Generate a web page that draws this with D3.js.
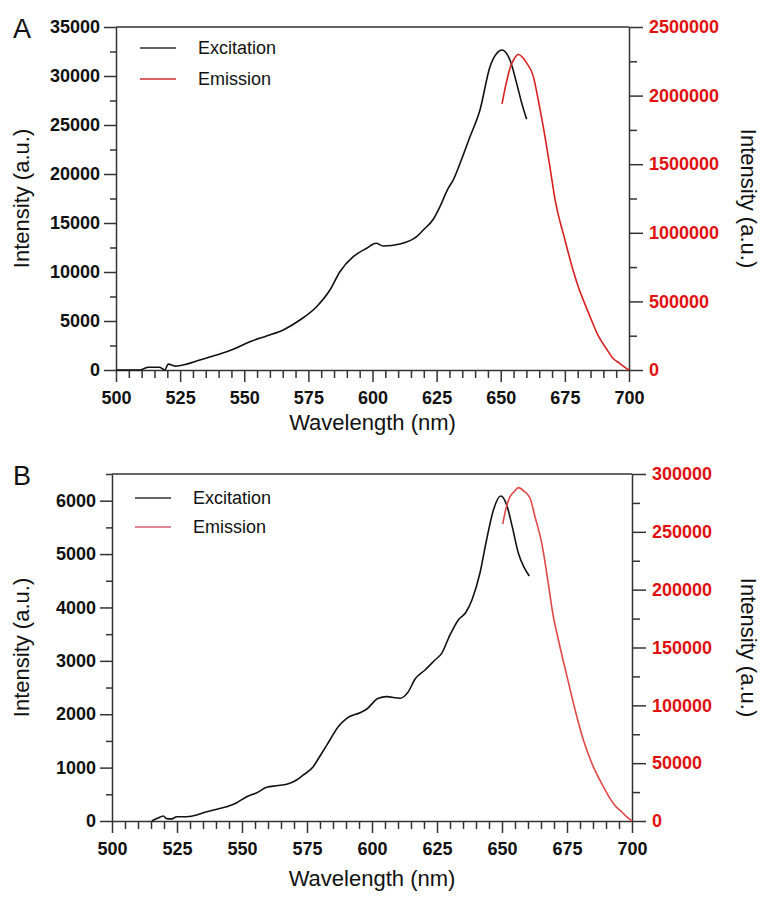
<!DOCTYPE html>
<html>
<head>
<meta charset="utf-8">
<script src="https://cdn.jsdelivr.net/npm/d3@7"></script>
<style>
  body { margin: 0; background: #fff; }
  svg { font-family: "Liberation Sans", Arial, sans-serif; }
</style>
</head>
<body>
<script>
// Panel A data (wavelength nm, intensity a.u.)
const excitationA = [
  [500, 0], [505, 0], [509.4, 0], [511, 150], [512.5, 280], [517, 280], [518, 150], [519, 0],
  [520.4, 600], [523, 400], [527.5, 600], [532.7, 1020], [539.2, 1530], [545.7, 2110],
  [552.2, 2890], [558.7, 3470], [565.2, 4080], [571.7, 5100], [578.2, 6460], [583.4, 8160],
  [587.3, 10030], [592.5, 11560], [597.7, 12420], [601.4, 12930], [604.2, 12650], [610.7, 12860],
  [617.2, 13600], [619.8, 14290], [623.7, 15380], [626.3, 16670], [629.5, 18540], [631.5, 19390],
  [634, 21000], [638, 23800], [641.9, 26530], [645.8, 30950], [648.4, 32300], [650.4, 32650],
  [653.6, 31630], [656.2, 29250], [658.2, 27210], [660.1, 25580]
];
const emissionA = [
  [650.5, 1940000], [652, 2080000], [653.6, 2200000], [655, 2260000], [656.8, 2300000],
  [658.5, 2280000], [660, 2240000], [662.7, 2140000], [664.5, 1980000], [666.6, 1770000],
  [669, 1500000], [671.2, 1240000], [675, 950000], [678, 740000], [680, 620000],
  [682.4, 500000], [685, 380000], [688, 250000], [691, 160000], [694, 80000],
  [696.3, 50000], [698, 25000], [700, 0]
];

// Panel B data
const excitationB = [
  [515.3, 0], [517.5, 50], [519.7, 94], [521, 44], [523, 40], [524.9, 81], [528.7, 81],
  [532.6, 112], [535.1, 156], [540.3, 219], [544.1, 268], [548, 343], [551.8, 455],
  [555.7, 531], [559.5, 631], [563.3, 661], [567.2, 687], [571, 768], [573.6, 862],
  [577.4, 1018], [580, 1218], [583.8, 1517], [587, 1767], [590.3, 1924], [595.4, 2029],
  [597.9, 2093], [602.4, 2299], [605.6, 2329], [610.8, 2299], [614, 2424], [616.5, 2655],
  [620.4, 2829], [624.2, 3016], [626.8, 3141], [630, 3485], [633.2, 3766], [636, 3900],
  [638.5, 4150], [641.5, 4640], [644, 5250], [646.7, 5826], [649.5, 6088], [651.8, 5920],
  [654, 5500], [656.3, 5015], [658.5, 4750], [660.5, 4590]
];
const emissionB = [
  [650.3, 256800], [651.5, 270000], [653.1, 280400], [654.8, 285000], [656.3, 288200],
  [658.5, 285000], [660.8, 279000], [662.7, 263000], [665.3, 240000], [667.8, 205500],
  [669.5, 180000], [671.7, 156500], [675, 125000], [678, 97000], [681.3, 70000],
  [685.1, 47000], [689, 29700], [691.5, 19600], [694, 12000], [696, 8000], [698, 3500], [700, 0]
];

const xTicks = [500, 525, 550, 575, 600, 625, 650, 675, 700];
const leftTicksA = [0, 5000, 10000, 15000, 20000, 25000, 30000, 35000];
const rightTicksA = [0, 500000, 1000000, 1500000, 2000000, 2500000];
const leftTicksB = [0, 1000, 2000, 3000, 4000, 5000, 6000];
const rightTicksB = [0, 50000, 100000, 150000, 200000, 250000, 300000];

const svg = d3.select("body").append("svg")
  .attr("width", 763)
  .attr("height", 897);

function drawPanel(p) {
  const x = d3.scaleLinear().domain([500, 700]).range([p.left, p.right]);
  const yL = d3.scaleLinear().domain([0, p.leftMax]).range([p.bottom, p.top]);
  const yR = d3.scaleLinear().domain([0, p.rightMax]).range([p.bottom, p.top]);
  const g = svg.append("g");
  const axisColor = "#333";

  // top border
  g.append("line")
    .attr("x1", p.left).attr("x2", p.right)
    .attr("y1", p.top).attr("y2", p.top)
    .attr("stroke", axisColor).attr("stroke-width", 1.5);

  // x axis: minor ticks then major
  const xMinor = d3.range(500, 701, 5).filter(d => d % 25 !== 0);
  g.append("g").attr("transform", `translate(0,${p.bottom})`)
    .call(d3.axisBottom(x).tickValues(xMinor).tickSize(8).tickFormat(""))
    .call(a => a.select(".domain").remove());
  g.append("g").attr("transform", `translate(0,${p.bottom})`)
    .call(d3.axisBottom(x).tickValues(xTicks).tickSize(12).tickSizeOuter(0).tickPadding(9));

  // left axis
  const lMinor = d3.range(p.leftMinor, p.leftMax + 1, p.leftMinor * 2);
  g.append("g").attr("transform", `translate(${p.left},0)`)
    .call(d3.axisLeft(yL).tickValues(lMinor).tickSize(6).tickFormat(""))
    .call(a => a.select(".domain").remove());
  g.append("g").attr("transform", `translate(${p.left},0)`)
    .call(d3.axisLeft(yL).tickValues(p.leftTicks).tickSize(12).tickSizeOuter(0).tickPadding(4).tickFormat(d3.format("d")));

  // right axis
  const rMinor = d3.range(p.rightMinor, p.rightMax, p.rightMinor * 2);
  g.append("g").attr("transform", `translate(${p.right},0)`)
    .call(d3.axisRight(yR).tickValues(rMinor).tickSize(8).tickFormat(""))
    .call(a => a.select(".domain").remove());
  const ra = g.append("g").attr("transform", `translate(${p.right},0)`)
    .call(d3.axisRight(yR).tickValues(p.rightTicks).tickSize(14).tickSizeOuter(0).tickPadding(6).tickFormat(d3.format("d")));

  g.selectAll(".tick line").attr("stroke", axisColor).attr("stroke-width", 1.5);
  g.selectAll(".domain").attr("stroke", axisColor).attr("stroke-width", 1.5);
  g.selectAll(".tick text")
    .style("font-family", "'Liberation Sans', Arial, sans-serif")
    .style("font-size", "18px").style("font-weight", "bold").attr("fill", "#111");
  ra.selectAll(".tick text").attr("fill", "#e01010");

  // curves
  const line = (ys) => d3.line().x(d => x(d[0])).y(d => ys(d[1])).curve(d3.curveMonotoneX);
  g.append("path").datum(p.exc)
    .attr("d", line(yL)).attr("fill", "none")
    .attr("stroke", "#111").attr("stroke-width", 1.6);
  g.append("path").datum(p.emi)
    .attr("d", line(yR)).attr("fill", "none")
    .attr("stroke", p.red).attr("stroke-width", 1.6);

  // legend
  const lg = g.append("g");
  [["Excitation", "#333", p.legY], ["Emission", p.redLeg, p.legY + p.legGap]].forEach(([t, c, y]) => {
    lg.append("line").attr("x1", p.legX).attr("x2", p.legX + 36)
      .attr("y1", y).attr("y2", y).attr("stroke", c).attr("stroke-width", 1.5);
    lg.append("text").attr("x", p.legX + 58).attr("y", y + 6)
      .style("font-size", "18px").attr("fill", "#111").text(t);
  });

  // titles
  const mid = (p.top + p.bottom) / 2;
  g.append("text").attr("transform", `translate(29,${mid}) rotate(-90)`)
    .attr("text-anchor", "middle").style("font-size", "22px").attr("fill", "#111")
    .text("Intensity (a.u.)");
  g.append("text").attr("transform", `translate(741,${mid}) rotate(90)`)
    .attr("text-anchor", "middle").style("font-size", "22px").attr("fill", "#111")
    .text("Intensity (a.u.)");
  g.append("text").attr("x", (p.left + p.right) / 2).attr("y", p.bottom + p.titleDy)
    .attr("text-anchor", "middle").style("font-size", "22px").attr("fill", "#111")
    .text("Wavelength (nm)");
  g.append("text").attr("x", 13).attr("y", p.top + p.letterDy)
    .style("font-size", "27px").attr("fill", "#111").text(p.letter);
}

drawPanel({
  letter: "A", letterDy: 11, titleDy: 60,
  left: 116, right: 629, top: 27, bottom: 370,
  leftMax: 35000, leftMinor: 2500, leftTicks: leftTicksA,
  rightMax: 2500000, rightMinor: 250000, rightTicks: rightTicksA,
  exc: excitationA, emi: emissionA,
  red: "#d82020", redLeg: "#d03030",
  legX: 140, legY: 48, legGap: 31
});

drawPanel({
  letter: "B", letterDy: 11, titleDy: 65,
  left: 112, right: 632, top: 474, bottom: 821,
  leftMax: 6500, leftMinor: 500, leftTicks: leftTicksB,
  rightMax: 300000, rightMinor: 25000, rightTicks: rightTicksB,
  exc: excitationB, emi: emissionB,
  red: "#e04848", redLeg: "#d06070",
  legX: 135, legY: 498, legGap: 29
});
</script>
</body>
</html>
